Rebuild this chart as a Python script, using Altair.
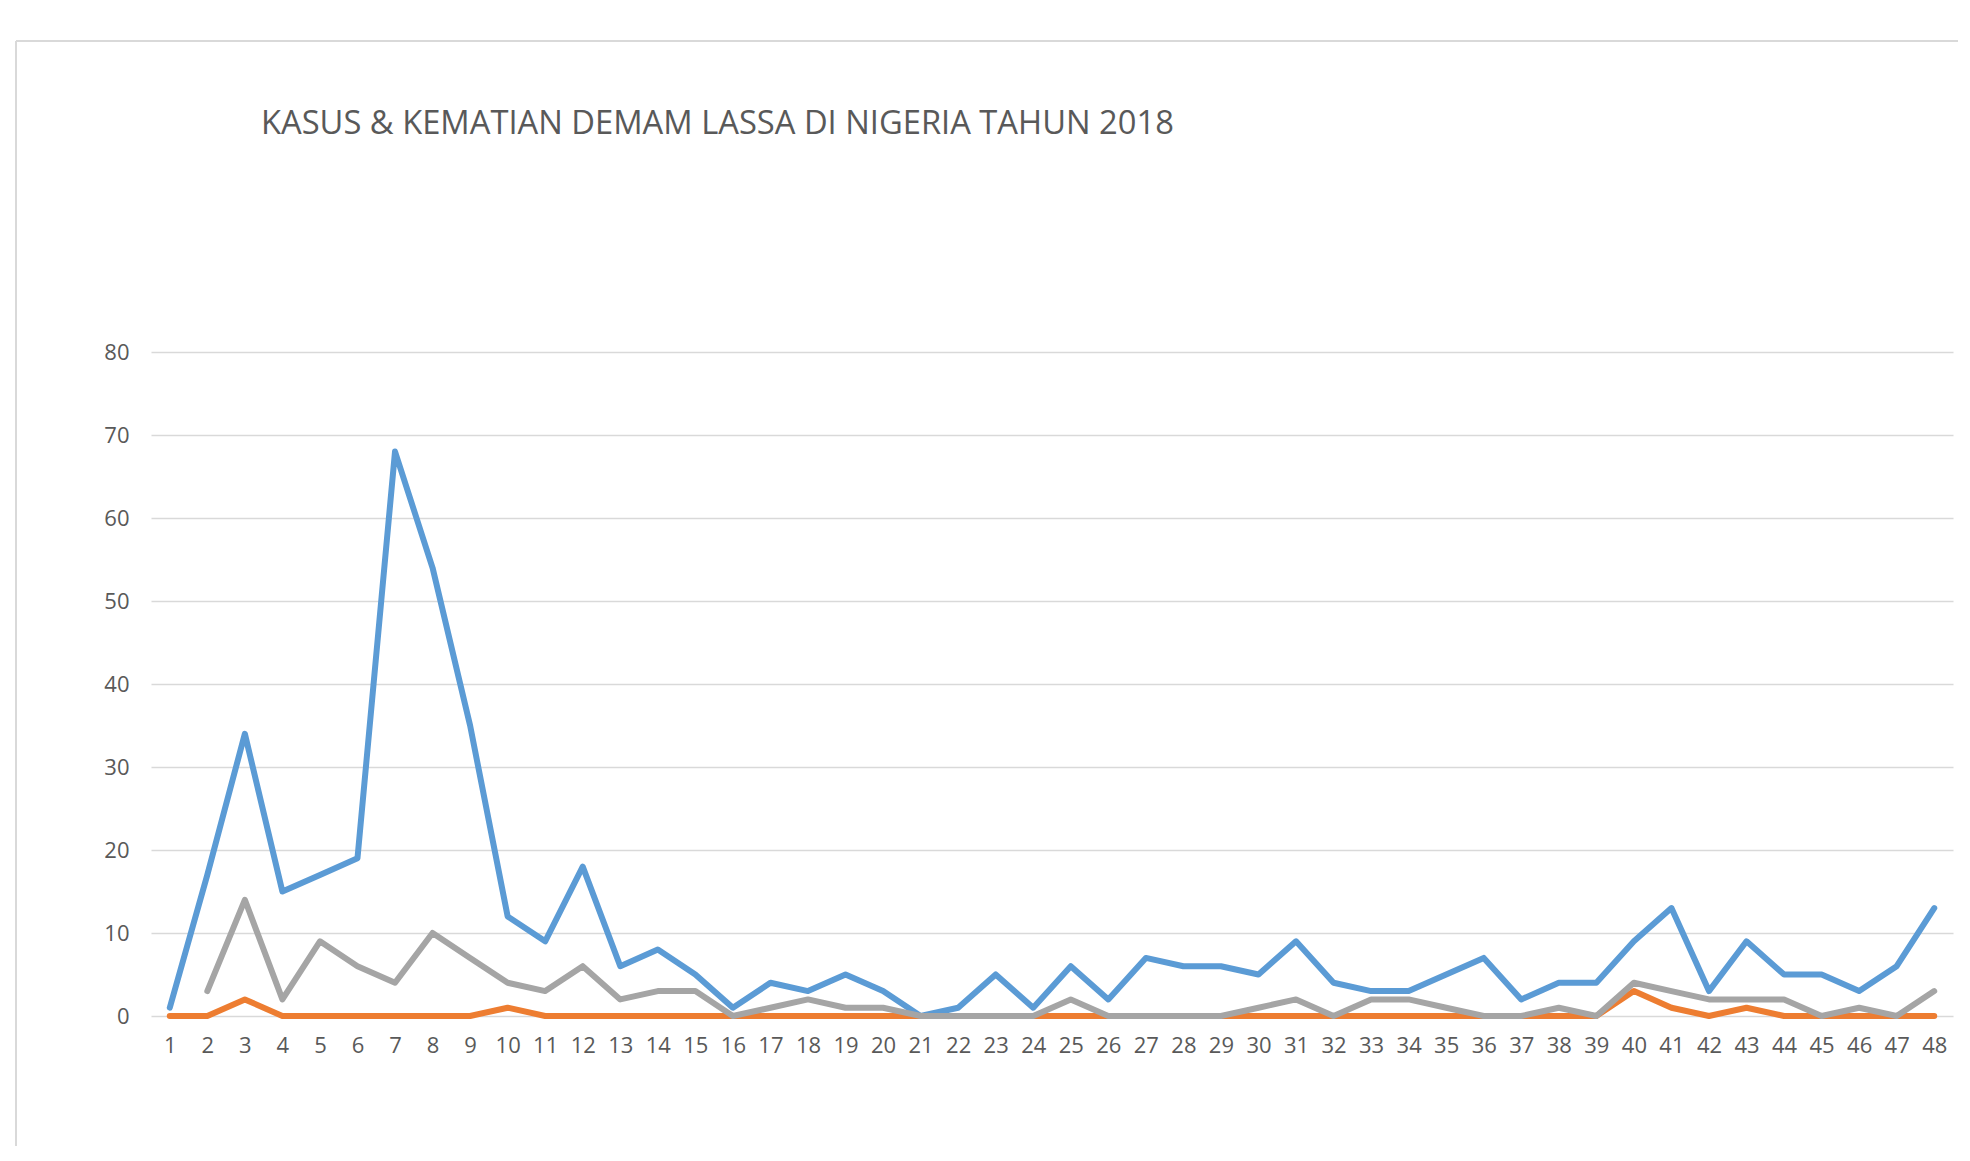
import altair as alt
import pandas as pd

weeks = list(range(1, 49))
kasus = [1, 17, 34, 15, 17, 19, 68, 54, 35, 12, 9, 18, 6, 8, 5, 1, 4, 3, 5, 3,
         0, 1, 5, 1, 6, 2, 7, 6, 6, 5, 9, 4, 3, 3, 5, 7, 2, 4, 4, 9,
         13, 3, 9, 5, 5, 3, 6, 13]
kematian = [0, 0, 2, 0, 0, 0, 0, 0, 0, 1, 0, 0, 0, 0, 0, 0, 0, 0, 0, 0,
            0, 0, 0, 0, 0, 0, 0, 0, 0, 0, 0, 0, 0, 0, 0, 0, 0, 0, 0, 3,
            1, 0, 1, 0, 0, 0, 0, 0]
seri3 = [None, 3, 14, 2, 9, 6, 4, 10, 7, 4, 3, 6, 2, 3, 3, 0, 1, 2, 1, 1,
         0, 0, 0, 0, 2, 0, 0, 0, 0, 1, 2, 0, 2, 2, 1, 0, 0, 1, 0, 4,
         3, 2, 2, 2, 0, 1, 0, 3]
y_ticks = [0, 10, 20, 30, 40, 50, 60, 70, 80]

series = [("Kasus", kasus, "#5B9BD5"),
          ("Kematian", kematian, "#ED7D31"),
          ("Seri 3", seri3, "#A5A5A5")]

FONT = "Open Sans"
W, H = 1802, 664

x_enc = alt.X("minggu:O", sort=weeks,
              scale=alt.Scale(type="point", padding=0.5),
              axis=alt.Axis(title=None, labelAngle=0, ticks=False, domain=False,
                            grid=False, labelFont=FONT, labelFontSize=22,
                            labelColor="#595959", labelPadding=19))
y_enc = alt.Y("nilai:Q", scale=alt.Scale(domain=[0, 80], nice=False),
              axis=alt.Axis(title=None, values=y_ticks, ticks=False, domain=False,
                            grid=True, gridColor="#D9D9D9", gridWidth=1.5,
                            labelFont=FONT, labelFontSize=22, labelColor="#595959",
                            labelPadding=22))

layers = []
for name, vals, col in series:
    df = pd.DataFrame({"minggu": weeks, "nilai": vals, "seri": name})
    df = df.dropna()
    layers.append(
        alt.Chart(df).mark_line(color=col, strokeWidth=6, strokeCap="round",
                                strokeJoin="round")
        .encode(x=x_enc, y=y_enc)
    )

one = pd.DataFrame({"a": [0]})
border_top = alt.Chart(one).mark_rule(color="#D9D9D9", strokeWidth=2).encode(
    x=alt.value(-135), x2=alt.value(W + 40), y=alt.value(-311), y2=alt.value(-311))
border_left = alt.Chart(one).mark_rule(color="#D9D9D9", strokeWidth=2).encode(
    x=alt.value(-135), x2=alt.value(-135), y=alt.value(-311), y2=alt.value(H + 200))

chart = alt.layer(border_top, border_left, *layers).properties(
    width=W, height=H,
    title=alt.TitleParams("KASUS & KEMATIAN DEMAM LASSA DI NIGERIA TAHUN 2018",
                          anchor="start", dx=246, offset=-101, font=FONT,
                          fontSize=32.7, fontWeight="normal", color="#595959"),
    autosize=alt.AutoSizeParams(type="none"),
    padding={"left": 143, "top": 344, "right": 5, "bottom": 130},
).configure_view(stroke=None)

chart.save("out.html", embed_options={"renderer": "svg", "actions": False})
